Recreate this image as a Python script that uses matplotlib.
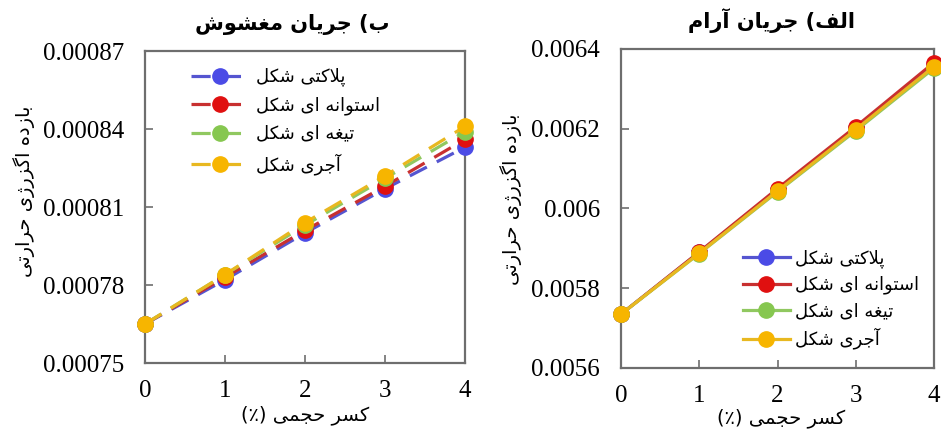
import numpy as np
import matplotlib
matplotlib.use("Agg")
import matplotlib.pyplot as plt

# volume fraction (%)
phi = [0, 1, 2, 3, 4]

# turbulent flow
turb_platelet = [0.000765, 0.000782, 0.000800, 0.000817, 0.000833]
turb_cylinder = [0.000765, 0.000783, 0.000801, 0.000818, 0.000836]
turb_blade = [0.000765, 0.000784, 0.000803, 0.000821, 0.000839]
turb_brick = [0.000765, 0.000784, 0.000804, 0.000822, 0.000841]

# laminar flow
lam_platelet = [0.005735, 0.005890, 0.006047, 0.006202, 0.006360]
lam_cylinder = [0.005735, 0.005891, 0.006050, 0.006205, 0.006366]
lam_blade = [0.005735, 0.005887, 0.006042, 0.006195, 0.006352]
lam_brick = [0.005735, 0.005888, 0.006044, 0.006198, 0.006356]

shape_names = ["پلاکتی شکل", "استوانه ای شکل", "تیغه ای شکل", "آجری شکل"]
title_turb = "ب) جریان مغشوش"
title_lam = "الف) جریان آرام"
ylabel_txt = "بازده اگزرژی حرارتی"
xlabel_txt = "کسر حجمی (٪)"

turb_ticks = [0.00075, 0.00078, 0.00081, 0.00084, 0.00087]
turb_ticklabels = ["0.00075", "0.00078", "0.00081", "0.00084", "0.00087"]
lam_ticks = [0.0056, 0.0058, 0.0060, 0.0062, 0.0064]
lam_ticklabels = ["0.0056", "0.0058", "0.006", "0.0062", "0.0064"]

# --- minimal arabic/persian shaping (no raqm in matplotlib) ---
# (isolated, final, initial, medial); right-joining letters have no initial/medial
FORMS = {
    'ا': ('\uFE8D', '\uFE8E', None, None),
    'آ': ('\uFE81', '\uFE82', None, None),
    'د': ('\uFEA9', '\uFEAA', None, None),
    'ر': ('\uFEAD', '\uFEAE', None, None),
    'ز': ('\uFEAF', '\uFEB0', None, None),
    'ژ': ('\uFB8A', '\uFB8B', None, None),
    'و': ('\uFEED', '\uFEEE', None, None),
    'ب': ('\uFE8F', '\uFE90', '\uFE91', '\uFE92'),
    'پ': ('\uFB56', '\uFB57', '\uFB58', '\uFB59'),
    'ت': ('\uFE95', '\uFE96', '\uFE97', '\uFE98'),
    'ج': ('\uFE9D', '\uFE9E', '\uFE9F', '\uFEA0'),
    'ح': ('\uFEA1', '\uFEA2', '\uFEA3', '\uFEA4'),
    'س': ('\uFEB1', '\uFEB2', '\uFEB3', '\uFEB4'),
    'ش': ('\uFEB5', '\uFEB6', '\uFEB7', '\uFEB8'),
    'غ': ('\uFECD', '\uFECE', '\uFECF', '\uFED0'),
    'ف': ('\uFED1', '\uFED2', '\uFED3', '\uFED4'),
    'ک': ('\uFB8E', '\uFB8F', '\uFB90', '\uFB91'),
    'گ': ('\uFB92', '\uFB93', '\uFB94', '\uFB95'),
    'ل': ('\uFEDD', '\uFEDE', '\uFEDF', '\uFEE0'),
    'م': ('\uFEE1', '\uFEE2', '\uFEE3', '\uFEE4'),
    'ن': ('\uFEE5', '\uFEE6', '\uFEE7', '\uFEE8'),
    'ه': ('\uFEE9', '\uFEEA', '\uFEEB', '\uFEEC'),
    'ی': ('\uFBFC', '\uFBFD', '\uFBFE', '\uFBFF'),
}
LAM_ALEF = {'ا': ('\uFEFB', '\uFEFC'), 'آ': ('\uFEF5', '\uFEF6')}


def dual(c):
    return c in FORMS and FORMS[c][2] is not None


def fa(text):
    out = []
    i = 0
    while i < len(text):
        c = text[i]
        if c not in FORMS:
            out.append(c)
            i += 1
            continue
        link_prev = i > 0 and dual(text[i - 1])
        if c == 'ل' and i + 1 < len(text) and text[i + 1] in LAM_ALEF:
            iso, fin = LAM_ALEF[text[i + 1]]
            out.append(fin if link_prev else iso)
            i += 2
            continue
        link_next = dual(c) and i + 1 < len(text) and text[i + 1] in FORMS
        iso, fin, ini, med = FORMS[c]
        if link_prev and link_next:
            out.append(med)
        elif link_prev:
            out.append(fin)
        elif link_next:
            out.append(ini)
        else:
            out.append(iso)
        i += 1
    vis = ''.join(reversed(out))
    return vis.translate(str.maketrans({'(': ')', ')': '('}))


colors = ['#4b4be6', '#e01010', '#86c750', '#f7b500']
line_colors = ['#5555d0', '#c83030', '#90c860', '#e8b820']
fa_font = 'DejaVu Sans'
num_font = 'Liberation Serif'
spine_col = '#6e6e6e'

fig = plt.figure(figsize=(9.41, 4.30), dpi=100)
ax1 = fig.add_axes([145 / 941, 67 / 430, 320 / 941, 312 / 430])
ax2 = fig.add_axes([621 / 941, 62 / 430, 313 / 941, 319 / 430])


def style_axes(ax, ticks, ticklabels, ylo, yhi):
    ax.set_xlim(0, 4)
    ax.set_ylim(ylo, yhi)
    ax.set_xticks(phi)
    ax.set_xticklabels([str(v) for v in phi], fontfamily=num_font, fontsize=18)
    ax.set_yticks(ticks)
    ax.set_yticklabels(ticklabels, fontfamily=num_font, fontsize=18)
    ax.tick_params(axis='both', direction='in', length=6, width=1.2, color=spine_col)
    ax.tick_params(axis='y', pad=15)
    ax.tick_params(axis='x', pad=12)
    for s in ax.spines.values():
        s.set_color(spine_col)
        s.set_linewidth(1.6)
    ax.set_ylabel(fa(ylabel_txt), fontfamily=fa_font, fontsize=14)
    ax.set_xlabel(fa(xlabel_txt), fontfamily=fa_font, fontsize=14)


# turbulent flow (left)
turb = [turb_platelet, turb_cylinder, turb_blade, turb_brick]
for vals, c, lc, name in zip(turb, colors, line_colors, shape_names):
    ax1.plot(phi, vals, linestyle=(0, (6, 3.5)), linewidth=2.3, color=lc,
             marker='o', markersize=11, markerfacecolor=c, markeredgecolor=c,
             label=fa(name), clip_on=False, zorder=3)
style_axes(ax1, turb_ticks, turb_ticklabels, 0.00075, 0.00087)
ax1.set_title(fa(title_turb), fontfamily=fa_font, fontweight='bold', fontsize=15,
              pad=15, x=0.46)
ax1.yaxis.set_label_coords(-0.345, 0.55)
ax1.xaxis.set_label_coords(0.5, -0.135)
leg1 = ax1.legend(loc='upper left', bbox_to_anchor=(0.115, 0.975), frameon=False,
                  prop={'family': fa_font, 'size': 13}, handlelength=3.2,
                  labelspacing=0.55, borderpad=0, handletextpad=0.4)

# laminar flow (right)
lam = [lam_platelet, lam_cylinder, lam_blade, lam_brick]
for vals, c, lc, name in zip(lam, colors, line_colors, shape_names):
    ax2.plot(phi, vals, linestyle='-', linewidth=2.3, color=lc,
             marker='o', markersize=11, markerfacecolor=c, markeredgecolor=c,
             label=fa(name), clip_on=False, zorder=3)
style_axes(ax2, lam_ticks, lam_ticklabels, 0.0056, 0.0064)
ax2.set_title(fa(title_lam), fontfamily=fa_font, fontweight='bold', fontsize=15,
              pad=15, x=0.48)
ax2.yaxis.set_label_coords(-0.315, 0.53)
ax2.xaxis.set_label_coords(0.51, -0.125)
leg2 = ax2.legend(loc='lower left', bbox_to_anchor=(0.36, 0.03), frameon=False,
                  prop={'family': fa_font, 'size': 13}, handlelength=2.6,
                  labelspacing=0.42, borderpad=0, handletextpad=0.3)

fig.savefig("out.png", dpi=100)
